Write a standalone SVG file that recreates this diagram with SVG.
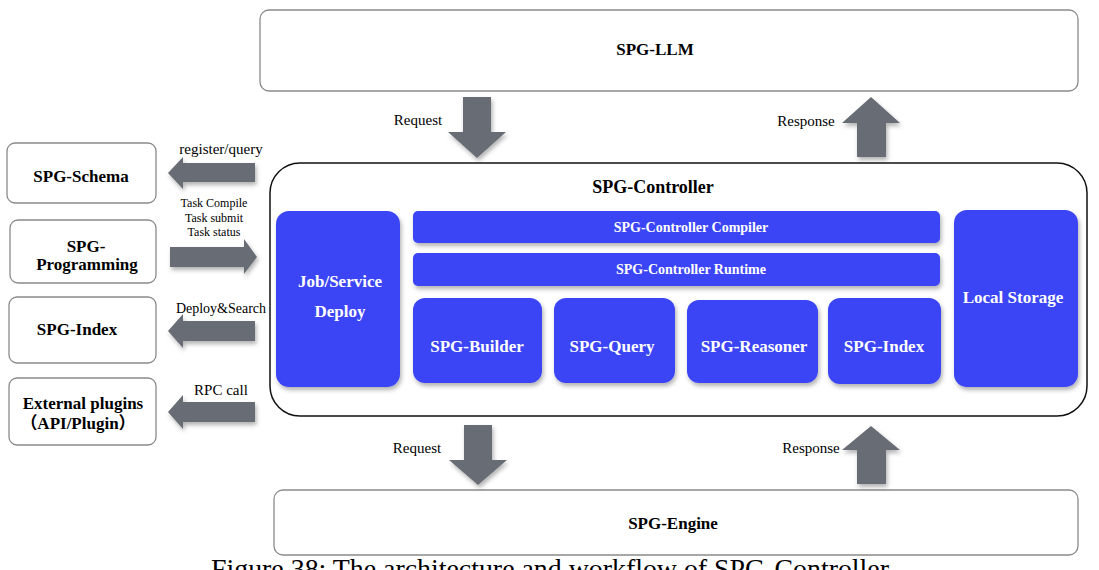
<svg xmlns="http://www.w3.org/2000/svg" width="1099" height="570" viewBox="0 0 1099 570">
<style>
.wbox{fill:#fff;stroke:#8a8a8a;stroke-width:1.3}
.blue{fill:#3a45f5}
.ttl{font-family:"Liberation Serif","Times New Roman",serif;font-weight:bold;font-size:17px;fill:#000;text-anchor:middle}
.wt{font-family:"Liberation Serif","Times New Roman",serif;font-weight:bold;font-size:17px;fill:#fff;text-anchor:middle}
.wts{font-family:"Liberation Serif","Times New Roman",serif;font-weight:bold;font-size:14px;fill:#fff;text-anchor:middle}
.lbl{font-family:"Liberation Serif","Times New Roman",serif;font-size:15px;fill:#000;text-anchor:middle}
.arr{fill:#676d75}
</style>
<defs>
<filter id="sh" x="-20%" y="-20%" width="140%" height="150%">
<feDropShadow dx="1.5" dy="3" stdDeviation="2" flood-color="#000" flood-opacity="0.3"/>
</filter>
</defs>

<g id="spg-llm">
<rect class="wbox" x="260" y="10" width="818" height="81" rx="9"/>
<text class="ttl" x="655" y="55">SPG-LLM</text>
</g>

<g id="spg-engine">
<rect class="wbox" x="274" y="490" width="804" height="65" rx="9"/>
<text class="ttl" x="673" y="529">SPG-Engine</text>
</g>

<g id="spg-controller">
<rect x="270" y="163" width="817" height="253" rx="30" fill="#fff" stroke="#111" stroke-width="1.5"/>
<text class="ttl" x="653" y="193" style="font-size:18px">SPG-Controller</text>
</g>

<g id="job-service-deploy">
<rect class="blue" filter="url(#sh)" x="276" y="211" width="124" height="176" rx="13"/>
<text class="wt" x="340" y="287">Job/Service</text>
<text class="wt" x="340" y="317">Deploy</text>
</g>

<g id="controller-compiler">
<rect class="blue" filter="url(#sh)" x="413" y="211" width="527" height="32" rx="5"/>
<text class="wts" x="691" y="232">SPG-Controller Compiler</text>
</g>

<g id="controller-runtime">
<rect class="blue" filter="url(#sh)" x="413" y="253" width="527" height="33" rx="5"/>
<text class="wts" x="691" y="274">SPG-Controller Runtime</text>
</g>

<g id="spg-builder">
<rect class="blue" filter="url(#sh)" x="413" y="298" width="129" height="85" rx="12"/>
<text class="wt" x="477" y="352">SPG-Builder</text>
</g>

<g id="spg-query">
<rect class="blue" filter="url(#sh)" x="554" y="298" width="121" height="85" rx="12"/>
<text class="wt" x="612" y="352">SPG-Query</text>
</g>

<g id="spg-reasoner">
<rect class="blue" filter="url(#sh)" x="687" y="300" width="131" height="83" rx="12"/>
<text class="wt" x="754" y="352">SPG-Reasoner</text>
</g>

<g id="spg-index-inner">
<rect class="blue" filter="url(#sh)" x="828" y="298" width="113" height="86" rx="12"/>
<text class="wt" x="884" y="352">SPG-Index</text>
</g>

<g id="local-storage">
<rect class="blue" filter="url(#sh)" x="954" y="210" width="124" height="177" rx="13"/>
<text class="wt" x="1013" y="303">Local Storage</text>
</g>

<g id="spg-schema">
<rect class="wbox" x="7" y="143" width="149" height="60" rx="8"/>
<text class="ttl" x="81" y="182">SPG-Schema</text>
</g>

<g id="spg-programming">
<rect class="wbox" x="10" y="220" width="146" height="63" rx="8"/>
<text class="ttl" x="86" y="252">SPG-</text>
<text class="ttl" x="87" y="270">Programming</text>
</g>

<g id="spg-index">
<rect class="wbox" x="9" y="297" width="147" height="66" rx="8"/>
<text class="ttl" x="77" y="335">SPG-Index</text>
</g>

<g id="external-plugins">
<rect class="wbox" x="9" y="378" width="147" height="67" rx="8"/>
<text class="ttl" x="83" y="409">External plugins</text>
<text class="ttl" x="78" y="429" style="font-family:'Liberation Serif','Noto Sans CJK SC',serif">（API/Plugin）</text>
</g>

<g id="connectors">
<path class="arr" filter="url(#sh)" d="M463,97 H491 V132 H506 L477,158 L448,132 H463 Z"/>
<text class="lbl" x="418" y="125">Request</text>
<path class="arr" filter="url(#sh)" d="M857,157 V123 H842 L871,97 L900,123 H886 V157 Z"/>
<text class="lbl" x="806" y="126">Response</text>

<path class="arr" filter="url(#sh)" d="M464,425 H492 V460 H507 L478,485 L449,460 H464 Z"/>
<text class="lbl" x="417" y="453">Request</text>
<path class="arr" filter="url(#sh)" d="M857,484 V450 H842 L871,426 L900,450 H886 V484 Z"/>
<text class="lbl" x="811" y="453">Response</text>

<path class="arr" filter="url(#sh)" d="M255,163 V182 H183 V189 L168,173 L183,157 V163 Z"/>
<text class="lbl" x="221" y="154">register/query</text>

<path class="arr" filter="url(#sh)" d="M170,247 H244 V239 L257,257 L244,274 V267 H170 Z"/>
<text class="lbl" x="214" y="207" style="font-size:12px">Task Compile</text>
<text class="lbl" x="214" y="222" style="font-size:12px">Task submit</text>
<text class="lbl" x="214" y="236" style="font-size:12px">Task status</text>

<path class="arr" filter="url(#sh)" d="M255,321 V341 H183 V348 L168,331 L183,314 V321 Z"/>
<text class="lbl" x="221" y="313" style="font-size:14px">Deploy&amp;Search</text>

<path class="arr" filter="url(#sh)" d="M255,402 V422 H183 V429 L168,412 L183,395 V402 Z"/>
<text class="lbl" x="221" y="395">RPC call</text>
</g>

<text x="211" y="578" textLength="678" lengthAdjust="spacingAndGlyphs" style="font-family:'Liberation Serif','Times New Roman',serif;font-size:28px;fill:#000">Figure 38: The architecture and workflow of SPG-Controller</text>
</svg>
